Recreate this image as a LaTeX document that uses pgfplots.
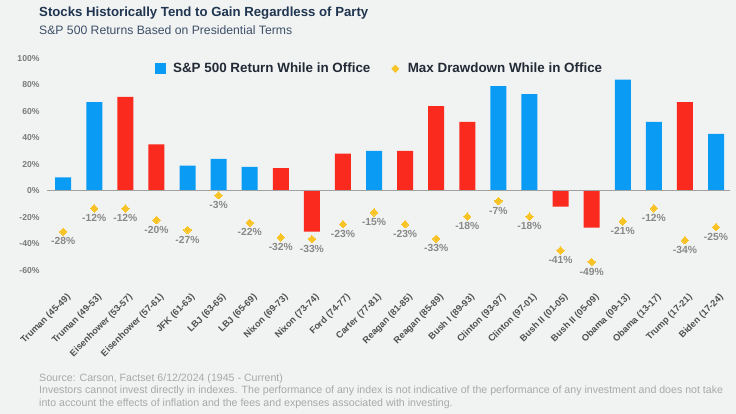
\documentclass[border=0pt]{standalone}
\usepackage{pgfplots}
\pgfplotsset{compat=1.18}
\usepackage{pgfplotstable}
\usepackage{fontspec}
\setmainfont{Liberation Sans}

\definecolor{bg}{HTML}{F1F2F2}
\definecolor{demblue}{HTML}{0A9CF5}
\definecolor{repred}{HTML}{FA2A1E}
\definecolor{ddyellow}{HTML}{F7C325}
\definecolor{titlenavy}{HTML}{1F3550}
\definecolor{subnavy}{HTML}{3D5068}
\definecolor{legtext}{HTML}{222A35}
\definecolor{ticklab}{HTML}{7A7A7A}
\definecolor{ddlab}{HTML}{888888}
\definecolor{catlab}{HTML}{505050}
\definecolor{footgray}{HTML}{A8A8A8}
\definecolor{zeroline}{HTML}{A0A0A0}

% S&P 500 return while in office, by party colour
\pgfplotstableread{
x ret
0 10
1 67
4 19
5 24
6 18
10 30
14 79
15 73
18 84
19 52
21 43
}\bluetable

\pgfplotstableread{
x ret
2 71
3 35
7 17
8 -31
9 28
11 30
12 64
13 52
16 -12
17 -28
20 67
}\redtable

% max drawdown: pos = where the marker sits in the picture, lab = printed value
\pgfplotstableread{
x pos lab
0 -31.0 -28
1 -13.4 -12
2 -13.4 -12
3 -22.2 -20
4 -29.7 -27
5 -3.5 -3
6 -24.2 -22
7 -35.3 -32
8 -36.5 -33
9 -25.4 -23
10 -16.4 -15
11 -25.4 -23
12 -36.3 -33
13 -19.6 -18
14 -7.8 -7
15 -19.6 -18
16 -45.1 -41
17 -53.9 -49
18 -23.2 -21
19 -13.4 -12
20 -37.5 -34
21 -27.5 -25
}\ddtable

\begin{document}
\begin{tikzpicture}
\path[use as bounding box, fill=bg] (0pt,0pt) rectangle (736pt,414pt);

\node[anchor=base west, inner sep=0pt, text=titlenavy,
      font=\fontsize{13.2}{15}\selectfont\bfseries] at (39pt,397.6pt)
  {Stocks Historically Tend to Gain Regardless of Party};
\node[anchor=base west, inner sep=0pt, text=subnavy,
      font=\fontsize{12.2}{14}\selectfont] at (39pt,379pt)
  {S\&P 500 Returns Based on Presidential Terms};

\begin{axis}[
    at={(47pt,124.1pt)}, anchor=south west,
    scale only axis, width=683pt, height=231.5pt,
    xmin=-0.52, xmax=21.45,
    ymin=-75, ymax=100,
    clip=false,
    axis line style={draw=none},
    major tick length=0pt,
    ytick={-60,-40,...,100},
    yticklabels={-60\%,-40\%,-20\%,0\%,20\%,40\%,60\%,80\%,100\%},
    yticklabel style={font=\fontsize{8.6}{10}\selectfont\bfseries, text=ticklab, xshift=-4pt},
    xtick={0,...,21},
    xticklabels={Truman (45-49),Truman (49-53),Eisenhower (53-57),Eisenhower (57-61),
      JFK (61-63),LBJ (63-65),LBJ (65-69),Nixon (69-73),Nixon (73-74),Ford (74-77),
      Carter (77-81),Reagan (81-85),Reagan (85-89),Bush I (89-93),Clinton (93-97),
      Clinton (97-01),Bush II (01-05),Bush II (05-09),Obama (09-13),Obama (13-17),
      Trump (17-21),Biden (17-24)},
    xticklabel style={rotate=45, anchor=north east, inner sep=0pt, yshift=-4pt,
      font=\fontsize{9.2}{10}\selectfont\bfseries, text=catlab},
    legend columns=2,
    legend style={at={(0.158,0.955)}, anchor=west, draw=none, fill=none,
      inner sep=0pt, font=\fontsize{13.4}{15}\selectfont\bfseries, text=legtext,
      /tikz/every even column/.append style={column sep=18pt}},
    legend cell align=left,
]

\addplot[ybar, bar width=16pt, bar shift=0pt, fill=demblue, draw=none,
  legend image code/.code={\fill[demblue] (0pt,-5.5pt) rectangle (11pt,5.5pt);
    \path (16pt,0pt);}]
  table[x=x, y=ret] {\bluetable};
\addlegendentry{S\&P 500 Return While in Office}

\addplot[ybar, bar width=16pt, bar shift=0pt, fill=repred, draw=none, forget plot]
  table[x=x, y=ret] {\redtable};

\addplot[color=ddyellow, only marks, mark=square*, mark size=2.6pt,
  mark options={rotate=45, fill=ddyellow, draw=ddyellow, line width=0pt},
  point meta=explicit symbolic,
  nodes near coords={\pgfplotspointmeta\%},
  every node near coord/.append style={anchor=north, inner sep=0pt, yshift=-6pt,
    font=\fontsize{10.3}{11}\selectfont\bfseries, text=ddlab},
  legend image code/.code={\fill[ddyellow] (1pt,0pt) -- (4.7pt,3.7pt) -- (8.4pt,0pt) -- (4.7pt,-3.7pt) -- cycle;
    \path (0pt,0pt) (15pt,0pt);}]
  table[x=x, y=pos, meta=lab] {\ddtable};
\addlegendentry{Max Drawdown While in Office}

\draw[zeroline, line width=1.2pt] (axis cs:-0.52,0) -- (axis cs:21.45,0);
\end{axis}

\begin{scope}[every node/.style={anchor=base west, inner sep=0pt, text=footgray,
      font=\fontsize{10.6}{13}\selectfont}]
\node at (39pt,32.2pt)
  {Source: Carson, Factset 6/12/2024 (1945 - Current)};
\node at (39pt,20pt)
  {Investors cannot invest directly in indexes. The performance of any index is not indicative of the performance of any investment and does not take};
\node at (39pt,7.8pt)
  {into account the effects of inflation and the fees and expenses associated with investing.};
\end{scope}
\end{tikzpicture}
\end{document}
